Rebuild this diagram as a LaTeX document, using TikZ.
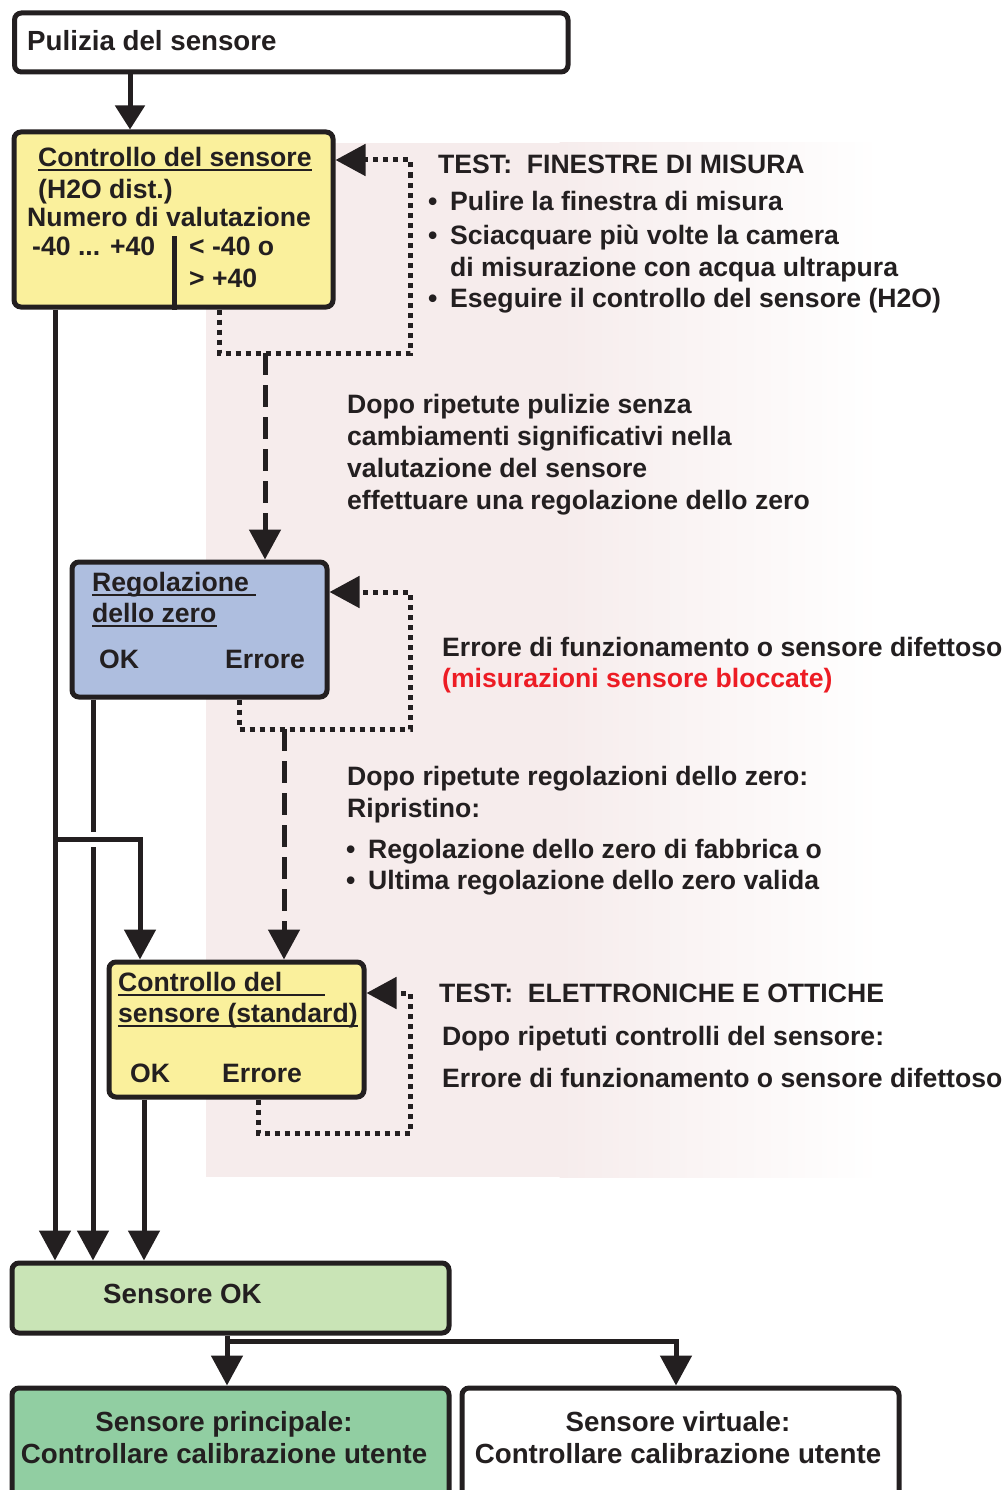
\documentclass[tikz,border=0pt]{standalone}
\usepackage{fontspec}
\setmainfont{Liberation Sans}
\usetikzlibrary{arrows.meta}
\definecolor{ink}{HTML}{231F20}
\definecolor{yel}{HTML}{FAF09C}
\definecolor{blu}{HTML}{AEBEDF}
\definecolor{lgreen}{HTML}{C9E4B6}
\definecolor{dgreen}{HTML}{91CEA2}
\definecolor{pinkbg}{HTML}{F6ECEC}
\definecolor{redtxt}{HTML}{ED1C24}
\newcommand\fa{\fontsize{26.6pt}{32pt}\selectfont\bfseries}
\newcommand\fb{\fontsize{27.7pt}{32pt}\selectfont\bfseries}
\newcommand\bul{\makebox[22pt][l]{•}}
\begin{document}
\begin{tikzpicture}[x=1pt,y=-1pt,
  box/.style={draw=ink,line width=5pt,rounded corners=7pt,inner sep=0pt,anchor=north west},
  txt/.style={anchor=base west,inner sep=0pt,text=ink,font=\fa},
  txtb/.style={anchor=base,inner sep=0pt,text=ink,font=\fb},
  conn/.style={draw=ink,line width=5pt,line join=miter},
  arr/.style={conn,-{Triangle[length=30pt,width=31pt]}},
  dotarr/.style={conn,dash pattern=on 5pt off 5pt,-{Triangle[length=30pt,width=31pt]}},
  dasharr/.style={conn,dash pattern=on 22pt off 10pt,-{Triangle[length=30pt,width=31pt]}},
  uline/.style={draw=ink,line width=2pt}]
\useasboundingbox (0,0) rectangle (1006,1490);
\clip (0,0) rectangle (1006,1490);
% background panel
\fill[pinkbg] (206,143) rectangle (560,1177);
\shade[left color=pinkbg,right color=white] (559.5,143) rectangle (880,1177);
% boxes
\node[box,fill=white,minimum width=553.5pt,minimum height=59pt] (pul) at (12,10.5) {};
\node[box,fill=yel,minimum width=319pt,minimum height=175pt] (cs1) at (11.5,129.5) {};
\node[box,fill=blu,minimum width=255pt,minimum height=135pt] (rz) at (69.5,559.5) {};
\node[box,fill=yel,minimum width=255pt,minimum height=135pt] (cs2) at (106.5,959.5) {};
\node[box,fill=lgreen,minimum width=437pt,minimum height=70pt] (ok) at (9.5,1260.5) {};
\node[box,fill=dgreen,minimum width=437pt,minimum height=140pt] (princ) at (9.5,1385.5) {};
\node[box,fill=white,minimum width=437pt,minimum height=140pt] (virt) at (459.5,1385.5) {};
% divider in first box
\coordinate (dv) at (174,236);
\draw[conn] (dv) -- (dv |- cs1.south);
% coordinates
\coordinate (x1) at (130,0);
\coordinate (xa) at (55,0);
\coordinate (xb) at (93,0);
\coordinate (gt) at (93,832);
\coordinate (gb) at (93,847);
\coordinate (br) at (55,839);
\coordinate (xc) at (140,0);
\coordinate (xd) at (144,0);
\coordinate (xe) at (227,0);
\coordinate (hb) at (227,1341);
\coordinate (xf) at (676,0);
% solid connectors
\draw[arr,-{Triangle[length=24pt,width=29pt]}] (pul.south -| x1) -- (cs1.north -| x1);
\draw[arr] (cs1.south -| xa) -- (ok.north -| xa);
\draw[conn] (rz.south -| xb) -- (gt);
\draw[arr] (gb) -- (ok.north -| xb);
\draw[arr] (br) -| (cs2.north -| xc);
\draw[arr] (cs2.south -| xd) -- (ok.north -| xd);
\draw[arr] (ok.south -| xe) -- (princ.north -| xe);
\draw[arr] (hb) -| (virt.north -| xf);
% dotted loops and dashed arrows
\coordinate (a1) at (219,353); \coordinate (b1) at (410,353); \coordinate (c1) at (410,160);
\draw[dotarr] (cs1.south -| a1) -- (a1) -- (b1) -- (c1) -- (cs1.east |- c1);
\coordinate (d1) at (265,353);
\draw[dasharr] (d1) -- (rz.north -| d1);
\coordinate (a2) at (239,729); \coordinate (b2) at (410,729); \coordinate (c2) at (410,592);
\draw[dotarr] (rz.south -| a2) -- (a2) -- (b2) -- (c2) -- (rz.east |- c2);
\coordinate (d2) at (284,729);
\draw[dasharr] (d2) -- (cs2.north -| d2);
\coordinate (a3) at (258,1133); \coordinate (b3) at (410,1133); \coordinate (c3) at (410,993);
\draw[dotarr] (cs2.south -| a3) -- (a3) -- (b3) -- (c3) -- (cs2.east |- c3);
% texts
\node[txt,font=\fb] (t0) at (27,50.5) {Pulizia del sensore};
\node[txt] (t1a) at (38,166.5) {Controllo del sensore};
\draw[uline] ([yshift=-4pt]t1a.base west) -- ([yshift=-4pt]t1a.base east);
\node[txt] (t1b) at (38,199) {(H2O dist.)};
\node[txt] (t1c) at (27,226) {Numero di valutazione};
\node[txt] (t1d) at (32,255) {-40 ... +40};
\node[txt] (t1e) at (189,255) {< -40 o};
\node[txt] (t1f) at (189,287) {> +40};
\node[txt] (r1) at (438,174) {TEST:\ \ FINESTRE DI MISURA};
\node[txt] (r2) at (428,211) {\bul Pulire la finestra di misura};
\node[txt] (r3) at (428,244) {\bul Sciacquare più volte la camera};
\node[txt] (r4) at (450,276) {di misurazione con acqua ultrapura};
\node[txt] (r5) at (428,307) {\bul Eseguire il controllo del sensore (H2O)};
\node[txt] (r6) at (347,413) {Dopo ripetute pulizie senza};
\node[txt] (r7) at (347,445) {cambiamenti significativi nella};
\node[txt] (r8) at (347,477) {valutazione del sensore};
\node[txt] (r9) at (347,509) {effettuare una regolazione dello zero};
\node[txt] (t2a) at (92,591) {Regolazione};
\draw[uline] ([yshift=-4pt]t2a.base west) -- ([yshift=-4pt,xshift=7pt]t2a.base east);
\node[txt] (t2b) at (92,622) {dello zero};
\draw[uline] ([yshift=-4pt]t2b.base west) -- ([yshift=-4pt]t2b.base east);
\node[txt] (t2c) at (99,668) {OK};
\node[txt] (t2d) at (225,668) {Errore};
\node[txt] (r10) at (442,656) {Errore di funzionamento o sensore difettoso};
\node[txt,text=redtxt] (r11) at (442,687) {(misurazioni sensore bloccate)};
\node[txt] (r12) at (347,785) {Dopo ripetute regolazioni dello zero:};
\node[txt] (r13) at (347,817) {Ripristino:};
\node[txt] (r14) at (346,858) {\bul Regolazione dello zero di fabbrica o};
\node[txt] (r15) at (346,889) {\bul Ultima regolazione dello zero valida};
\node[txt] (t3a) at (118,991) {Controllo del};
\draw[uline] ([yshift=-4pt]t3a.base west) -- ++(207,0);
\node[txt] (t3b) at (118,1022) {sensore (standard)};
\draw[uline] ([yshift=-4pt]t3b.base west) -- ([yshift=-4pt]t3b.base east);
\node[txt] (t3c) at (130,1082) {OK};
\node[txt] (t3d) at (222,1082) {Errore};
\node[txt] (r16) at (439,1002) {TEST:\ \ ELETTRONICHE E OTTICHE};
\node[txt] (r17) at (442,1045) {Dopo ripetuti controlli del sensore:};
\node[txt] (r18) at (442,1087) {Errore di funzionamento o sensore difettoso};
\node[txt,font=\fb] (t4) at (103,1303) {Sensore OK};
\node[txtb] (t5a) at (224,1431) {Sensore principale:};
\node[txtb] (t5b) at (224,1463) {Controllare calibrazione utente};
\node[txtb] (t6a) at (678,1431) {Sensore virtuale:};
\node[txtb] (t6b) at (678,1463) {Controllare calibrazione utente};
\end{tikzpicture}
\end{document}
